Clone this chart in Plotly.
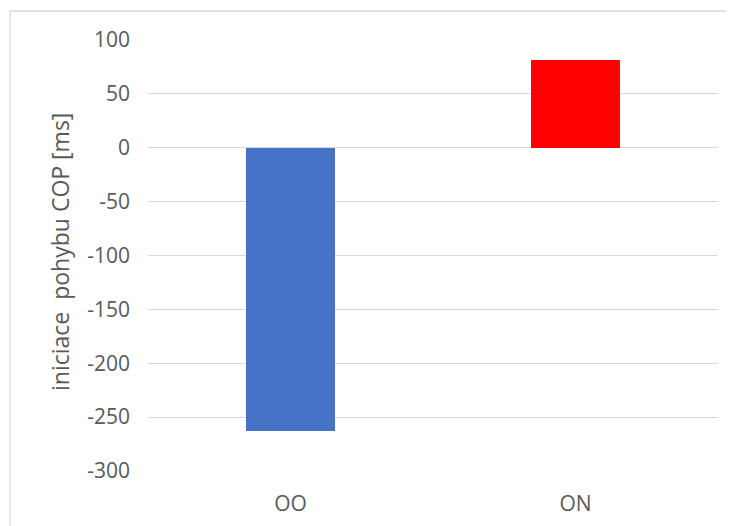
import plotly.graph_objects as go

categories = ["OO", "ON"]
values = [-263, 81.5]
bar_colors = ["#4472C4", "#FF0000"]
y_ticks = [100, 50, 0, -50, -100, -150, -200, -250, -300]
y_ticktext = ["100", "50", "0", "-50", "-100", "-150", "-200", "-250", "-300"]
y_title = "iniciace  pohybu COP [ms]"

FONT = "Open Sans"
TXT = "#595959"
GRID = "#D9D9D9"

fig = go.Figure(go.Bar(
    x=categories, y=values, marker=dict(color=bar_colors, line=dict(width=0)),
    width=0.312,
))

# page body has an 8px margin, so the figure is 8px smaller and margins shifted
W, H = 726, 518
L, R, T, B = 140, 16, 32, 55
pw, ph = W - L - R, H - T - B

def px_to_paper_x(px):
    return (px - 8 - L) / pw

def px_to_paper_y(py):
    return (H - B - (py - 8)) / ph

fig.add_shape(type="rect", xref="paper", yref="paper",
              x0=px_to_paper_x(10), x1=px_to_paper_x(760),
              y0=px_to_paper_y(560), y1=px_to_paper_y(11),
              line=dict(color=GRID, width=1.3), fillcolor="rgba(0,0,0,0)", layer="below")

fig.add_annotation(
    text=y_title, textangle=-90, showarrow=False,
    xref="paper", yref="paper",
    x=px_to_paper_x(60), y=px_to_paper_y(252),
    xanchor="center", yanchor="middle",
    font=dict(family=FONT, size=23, color=TXT),
)

fig.update_layout(
    width=W, height=H,
    margin=dict(l=L, r=R, t=T, b=B, autoexpand=False),
    paper_bgcolor="white", plot_bgcolor="white",
    font=dict(family=FONT, color=TXT, size=21),
    showlegend=False,
    bargap=0,
)
fig.update_xaxes(
    range=[-0.5, 1.5], showgrid=False, showline=False, zeroline=False,
    ticks="", tickfont=dict(size=21, color=TXT), ticklabelstandoff=18,
)
fig.update_yaxes(
    range=[-300, 100], tickvals=y_ticks, ticktext=y_ticktext,
    showgrid=True, gridcolor=GRID, gridwidth=1.3,
    zeroline=False, showline=False, ticks="", ticklabelstandoff=17,
    tickfont=dict(size=21, color=TXT),
)

fig.write_html("out.html")
